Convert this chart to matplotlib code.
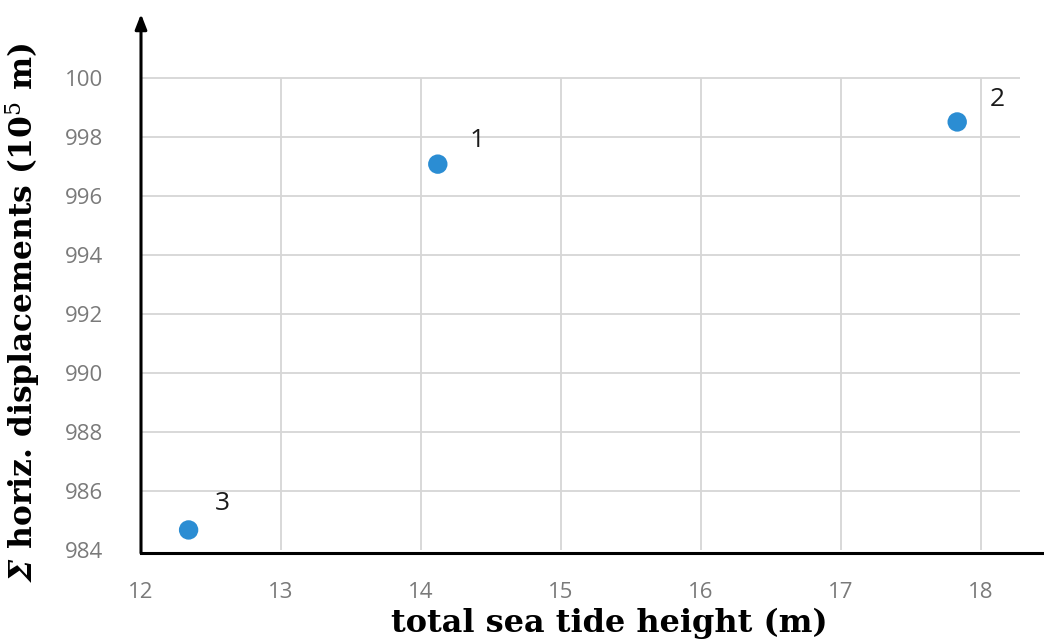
import matplotlib
matplotlib.use("Agg")
import matplotlib.pyplot as plt

# Tide height vs. summed horizontal displacement for three events
tide_height = [14.12, 17.83, 12.34]
displacement_sum = [997.08, 998.51, 984.68]
point_labels = ["1", "2", "3"]

y_ticks = [984, 986, 988, 990, 992, 994, 996, 998, 1000]
y_tick_labels = ["984", "986", "988", "990", "992", "994", "996", "998", "100"]
x_ticks = [12, 13, 14, 15, 16, 17, 18]
x_tick_labels = ["12", "13", "14", "15", "16", "17", "18"]

plt.rcParams["mathtext.fontset"] = "dejavuserif"

W, H = 1044, 643
fig = plt.figure(figsize=(W / 100, H / 100), dpi=100)
fig.patch.set_facecolor("white")

# axes box in pixels: left 141, right 1044, top 14, bottom 553
ax = fig.add_axes([141 / W, (H - 553) / H, (W - 141) / W, (553 - 14) / H])
ax.set_xlim(12, 12 + 903 / 140)
ax.set_ylim(984 - 3 / 29.5, 1000 + 64 / 29.5)
ax.set_facecolor("white")

for s in ("top", "right", "left"):
    ax.spines[s].set_visible(False)
ax.spines["bottom"].set_linewidth(2.2)
ax.spines["bottom"].set_color("black")

# grid
grid_color = "#d6d6d6"
ax.hlines(y_ticks[1:], 12, 18.28, color=grid_color, lw=1.3, zorder=1)
ax.vlines(x_ticks[1:], 984, 1000, color=grid_color, lw=1.3, zorder=1)

# vertical axis with arrow head
ax.annotate("", xy=(0, 1.0), xytext=(0, 0), xycoords="axes fraction",
            textcoords="axes fraction",
            arrowprops=dict(arrowstyle="-|>,head_width=0.35,head_length=0.9",
                            lw=2.2, color="black", shrinkA=0, shrinkB=0),
            annotation_clip=False, zorder=5)

ax.scatter(tide_height, displacement_sum, s=195, color="#2b8dd3",
           edgecolors="none", zorder=4)

offsets = {"1": (0.28, 0.8), "2": (0.29, 0.77), "3": (0.24, 0.88)}
for x, y, lab in zip(tide_height, displacement_sum, point_labels):
    dx, dy = offsets[lab]
    ax.text(x + dx, y + dy, lab, fontsize=19, family="Open Sans",
            color="#1a1a1a", ha="center", va="center", zorder=5)

ax.set_xticks(x_ticks)
ax.set_xticklabels(x_tick_labels)
ax.set_yticks(y_ticks)
ax.set_yticklabels(y_tick_labels)
ax.tick_params(axis="both", length=0, labelsize=16, labelcolor="#7a7a7a")
ax.tick_params(axis="x", pad=21)
ax.tick_params(axis="y", pad=27)
for t in ax.get_xticklabels() + ax.get_yticklabels():
    t.set_family("Open Sans")

fig.text(609 / W, 1 - 623 / H, "total sea tide height (m)", ha="center",
         va="center", fontsize=23, fontweight="bold", family="DejaVu Serif")
fig.text(23 / W, 1 - 312 / H,
         r"$\mathbfit{\Sigma}$ horiz. displacements (10$^5$ m)",
         rotation=90, ha="center", va="center", fontsize=22.5,
         fontweight="bold", family="DejaVu Serif")

fig.savefig("out.png", dpi=100, facecolor="white")
